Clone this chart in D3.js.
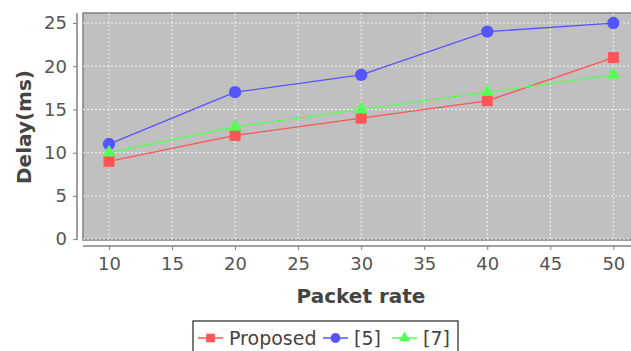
<!DOCTYPE html>
<html><head><meta charset="utf-8">
<script src="https://cdn.jsdelivr.net/npm/d3@7"></script>
<style>body{margin:0;background:#fff}svg{display:block}text{font-family:"DejaVu Sans",sans-serif}</style>
</head><body>
<svg id="c" width="631" height="351"></svg>
<script>
const packetRate = [10, 20, 30, 40, 50];
const proposed = [9, 12, 14, 16, 21];
const ref5 = [11, 17, 19, 24, 25];
const ref7 = [10, 13, 15, 17, 19];
const xTicks = [10, 15, 20, 25, 30, 35, 40, 45, 50];
const yTicks = [0, 5, 10, 15, 20, 25];
const seriesNames = ["Proposed", "[5]", "[7]"];
const seriesColors = ["#ff5555", "#5555ff", "#55ff55"];
const seriesShapes = [d3.symbolSquare, d3.symbolCircle, d3.symbolTriangle];
const seriesData = [proposed, ref5, ref7];

const svg = d3.select("#c");
const L = 83, R = 631, T = 13, B = 240;
const x = d3.scaleLinear().domain([7.94, 51.4]).range([L, R]);
const y = d3.scaleLinear().domain([-0.1, 26.16]).range([B, T]);

svg.append("rect").attr("x", L).attr("y", T).attr("width", R - L + 2).attr("height", B - T)
  .attr("fill", "#c0c0c0").attr("stroke", "#808080").attr("stroke-width", 1.5);

const g = svg.append("g");
g.selectAll(".vg").data(xTicks).join("line")
  .attr("x1", d => x(d)).attr("x2", d => x(d)).attr("y1", T).attr("y2", B)
  .attr("stroke", "#ffffff").attr("stroke-dasharray", "2,2").attr("stroke-width", 0.8);
g.selectAll(".hg").data(yTicks).join("line")
  .attr("y1", d => y(d)).attr("y2", d => y(d)).attr("x1", L).attr("x2", R)
  .attr("stroke", "#ffffff").attr("stroke-dasharray", "2,2").attr("stroke-width", 0.8);

// axes
const xAxis = svg.append("g").attr("transform", `translate(0,${B + 6})`)
  .call(d3.axisBottom(x).tickValues(xTicks).tickSize(4).tickPadding(7).tickSizeOuter(0));
const yAxis = svg.append("g").attr("transform", `translate(${L - 6},0)`)
  .call(d3.axisLeft(y).tickValues(yTicks).tickSize(4).tickPadding(6).tickSizeOuter(0));
[xAxis, yAxis].forEach(a => {
  a.select(".domain").attr("stroke", "#808080").attr("stroke-width", 1.5);
  a.selectAll(".tick line").attr("stroke", "#808080");
  a.selectAll(".tick text").attr("fill", "#555").style("font-size", "18px")
    .style("font-family", "'DejaVu Sans', sans-serif");
});
xAxis.select(".domain").attr("d", `M${L},0H${R}`);
yAxis.select(".domain").attr("d", `M0,${T}V${B}`);

// series
seriesData.forEach((vals, i) => {
  const pts = packetRate.map((p, j) => [p, vals[j]]);
  svg.append("path").datum(pts)
    .attr("fill", "none").attr("stroke", seriesColors[i]).attr("stroke-width", 1.3)
    .attr("d", d3.line().x(d => x(d[0])).y(d => y(d[1])));
  svg.selectAll(null).data(pts).join("path")
    .attr("transform", d => `translate(${x(d[0])},${y(d[1])})`)
    .attr("d", d3.symbol().type(seriesShapes[i]).size(i === 2 ? 80 : 120))
    .attr("fill", seriesColors[i]);
});

// axis titles
svg.append("text").attr("x", 361).attr("y", 303).attr("text-anchor", "middle")
  .attr("fill", "#444").style("font-size", "20px").style("font-weight", "bold").text("Packet rate");
svg.append("text").attr("transform", "translate(31,127) rotate(-90)").attr("text-anchor", "middle")
  .attr("fill", "#444").style("font-size", "20px").style("font-weight", "bold").text("Delay(ms)");

// legend
const lg = svg.append("g");
lg.append("rect").attr("x", 193).attr("y", 321).attr("width", 265).attr("height", 40)
  .attr("fill", "#fff").attr("stroke", "#222").attr("stroke-width", 1.2);
const itemX = [198, 323, 392];
seriesNames.forEach((n, i) => {
  const ix = itemX[i], iy = 338;
  lg.append("line").attr("x1", ix).attr("x2", ix + 25).attr("y1", iy).attr("y2", iy)
    .attr("stroke", seriesColors[i]).attr("stroke-width", 1.5);
  lg.append("path").attr("transform", `translate(${ix + 12.5},${iy})`)
    .attr("d", d3.symbol().type(seriesShapes[i]).size(i === 2 ? 55 : 75)).attr("fill", seriesColors[i]);
  lg.append("text").attr("x", ix + 31).attr("y", iy + 7).attr("fill", "#444")
    .style("font-size", "19px").text(n);
});
</script>
</body></html>
